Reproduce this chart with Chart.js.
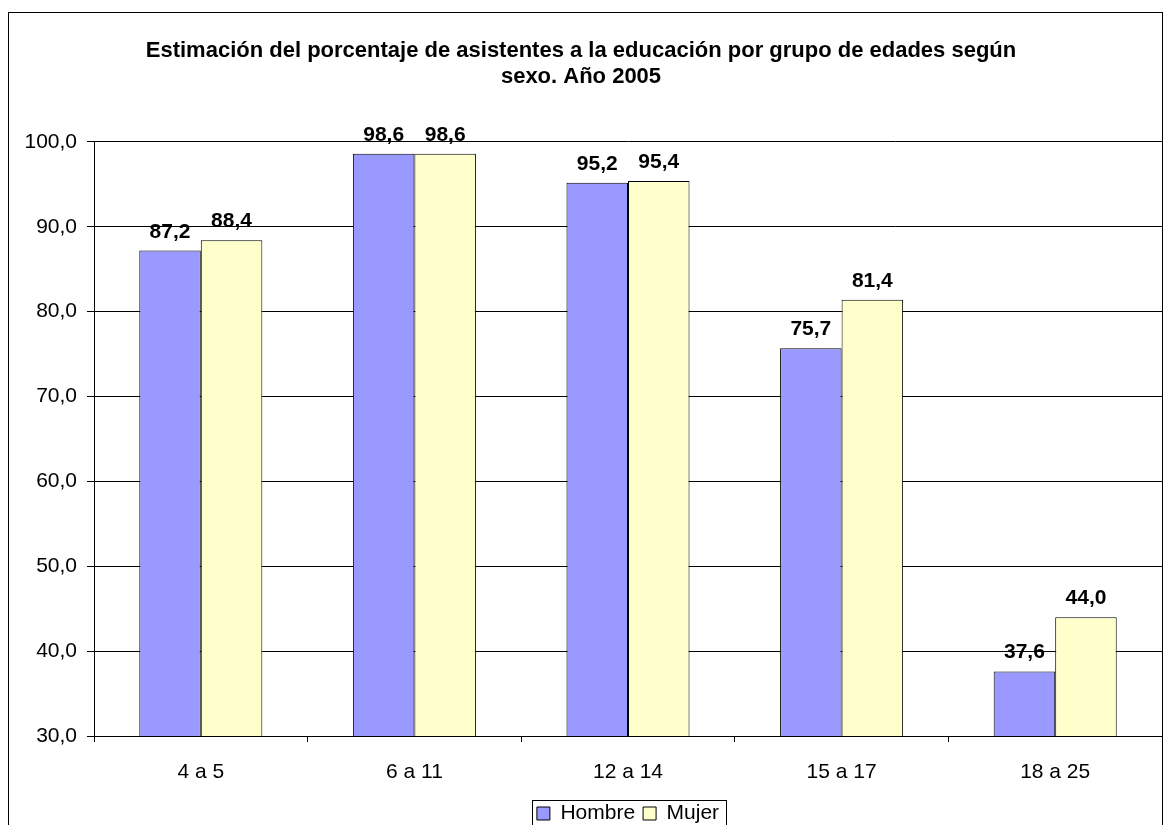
<!DOCTYPE html>
<html>
<head>
<meta charset="utf-8">
<script src="https://cdn.jsdelivr.net/npm/chart.js@4.4.0/dist/chart.umd.min.js"></script>
<style>
    html, body { margin: 0; padding: 0; background: #fff; }
    canvas { display: block; }
</style>
</head>
<body>
<canvas id="chart" width="1163" height="825"></canvas>
<script>
const categories = [ '4 a 5', '6 a 11', '12 a 14', '15 a 17', '18 a 25' ];
const hombre = [ 87.2, 98.6, 95.2, 75.7, 37.6 ];
const mujer = [ 88.4, 98.6, 95.4, 81.4, 44.0 ];
const yMin = 30, yMax = 100, yStep = 10;
const titleLines = [
    'Estimación del porcentaje de asistentes a la educación por grupo de edades según',
    'sexo. Año 2005'
];

const FONT = "'Liberation Sans', Arial, sans-serif";
const fmt = v => v.toFixed( 1 ).replace( '.', ',' );

// value labels above every bar
const valueLabels = {
    id: 'valueLabels',
    afterDatasetsDraw( chart ) {
        const ctx = chart.ctx;
        ctx.save();
        ctx.font = 'bold 21px ' + FONT;
        ctx.fillStyle = '#000';
        ctx.textAlign = 'center';
        ctx.textBaseline = 'alphabetic';
        chart.data.datasets.forEach( ( ds, i ) => {
            chart.getDatasetMeta( i ).data.forEach( ( bar, j ) => {
                ctx.fillText( fmt( ds.data[ j ] ), bar.x, bar.y - 13 );
            } );
        } );
        ctx.restore();
    }
};

// legend centred under the plot area, outer chart border and legend frame
const frames = {
    id: 'frames',
    afterLayout( chart ) {
        const lg = chart.legend;
        lg.left = chart.chartArea.left;
        lg.right = chart.chartArea.right;
        lg.width = lg.right - lg.left;
    },
    afterDraw( chart ) {
        const ctx = chart.ctx;
        ctx.save();
        ctx.strokeStyle = '#000';
        ctx.lineWidth = 1;
        ctx.strokeRect( 8.5, 12.5, 1154, 830 );
        const boxes = chart.legend.legendHitBoxes;
        if ( boxes && boxes.length ) {
            const left = Math.min( ...boxes.map( b => b.left ) ) - 5;
            const right = Math.max( ...boxes.map( b => b.left + b.width ) ) + 7;
            const top = Math.min( ...boxes.map( b => b.top ) ) - 3;
            ctx.strokeRect( Math.round( left ) + 0.5, Math.round( top ) + 0.5, Math.round( right - left ), 60 );
        }
        ctx.restore();
    }
};

new Chart( document.getElementById( 'chart' ), {
    type: 'bar',
    data: {
        labels: categories,
        datasets: [ {
            label: 'Hombre',
            data: hombre,
            backgroundColor: '#9999FF',
            borderColor: '#000',
            borderWidth: 1,
            borderSkipped: false,
            categoryPercentage: 0.576,
            barPercentage: 1
        }, {
            label: 'Mujer',
            data: mujer,
            backgroundColor: '#FFFFCC',
            borderColor: '#000',
            borderWidth: 1,
            borderSkipped: false,
            categoryPercentage: 0.576,
            barPercentage: 1
        } ]
    },
    options: {
        responsive: false,
        animation: false,
        devicePixelRatio: 1,
        layout: { padding: { left: 0, right: 1, top: 0, bottom: -9 } },
        scales: {
            x: {
                grid: { drawOnChartArea: false, drawTicks: true, tickLength: 6, color: '#000', offset: true },
                border: { display: true, color: '#000' },
                ticks: { color: '#000', padding: 18, font: { family: FONT, size: 21 } },
                afterFit( s ) { s.height = 59; }
            },
            y: {
                min: yMin,
                max: yMax,
                grid: { color: '#000', tickLength: 7, drawTicks: true },
                border: { display: true, color: '#000' },
                ticks: {
                    stepSize: yStep,
                    color: '#000',
                    padding: 10,
                    font: { family: FONT, size: 21 },
                    callback: v => fmt( v )
                },
                afterFit( s ) { s.width = 94; }
            }
        },
        plugins: {
            title: {
                display: true,
                text: titleLines,
                color: '#000',
                font: { family: FONT, size: 22, weight: 'bold', lineHeight: 1.18 },
                padding: { top: 38, bottom: 52 }
            },
            legend: {
                position: 'bottom',
                labels: {
                    color: '#000',
                    boxWidth: 13,
                    boxHeight: 13,
                    padding: 8,
                    font: { family: FONT, size: 21 }
                }
            },
            tooltip: { enabled: false }
        }
    },
    plugins: [ valueLabels, frames ]
} );
</script>
</body>
</html>
